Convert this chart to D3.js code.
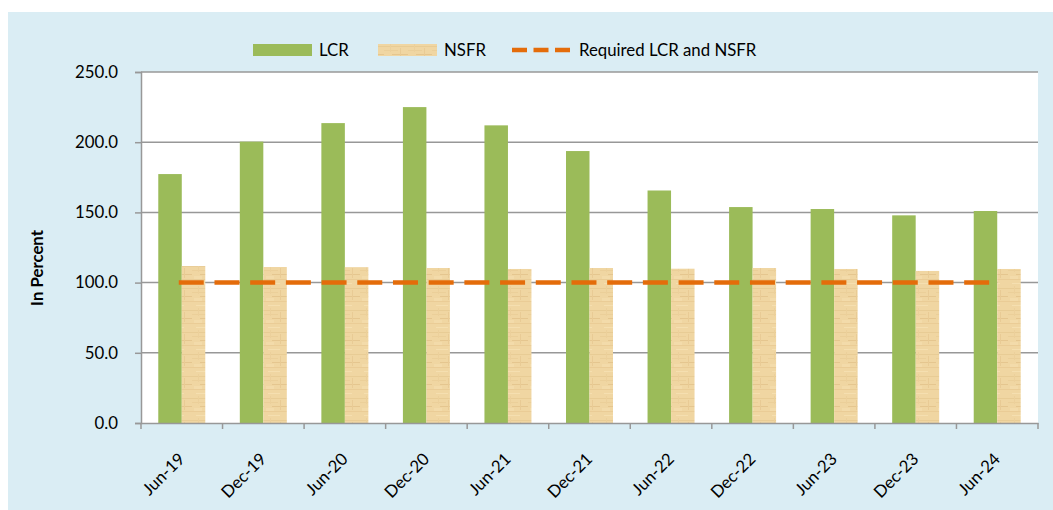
<!DOCTYPE html>
<html>
<head>
<meta charset="utf-8">
<script src="https://cdn.jsdelivr.net/npm/d3@7"></script>
<style>
  body { margin: 0; background: #fff; }
  text { font-family: Lato, "Open Sans", sans-serif; fill: #000; }
</style>
</head>
<body>
<div id="chart"></div>
<script>
const periods = ['Jun-19', 'Dec-19', 'Jun-20', 'Dec-20', 'Jun-21', 'Dec-21', 'Jun-22', 'Dec-22', 'Jun-23', 'Dec-23', 'Jun-24'];
const lcr = [177.3, 200.4, 213.6, 225.0, 212.0, 193.7, 165.6, 153.8, 152.4, 147.9, 151.0];
const nsfr = [111.8, 111.1, 111.0, 110.4, 109.7, 110.4, 109.9, 110.4, 109.7, 108.3, 109.7];
const required = [100, 100, 100, 100, 100, 100, 100, 100, 100, 100, 100];
const yTicks = [0, 50, 100, 150, 200, 250];

const width = 1053, height = 510;
const margin = { top: 72, right: 15, bottom: 87, left: 141 };
const fs = 16.8;

const svg = d3.select('#chart')
    .append('svg')
    .attr('width', width)
    .attr('height', height);

// paper-like texture for NSFR bars
const defs = svg.append('defs');
const pat = defs.append('pattern')
    .attr('id', 'paper')
    .attr('patternUnits', 'userSpaceOnUse')
    .attr('width', 24)
    .attr('height', 22);
pat.append('rect').attr('width', 24).attr('height', 22).attr('fill', '#f0d6a2');
[[0, 2, 24, 1, '#e8cc95'], [0, 6, 14, 1, '#ebcf99'], [8, 10, 16, 1, '#e5c68f'],
 [0, 15, 24, 1, '#eaCC96'], [4, 19, 12, 1, '#f5dfb0'], [16, 4, 1, 10, '#e9cb95'],
 [6, 0, 1, 8, '#ecd09b'], [2, 12, 8, 3, '#f3dbaa']].forEach(r => {
    pat.append('rect')
        .attr('x', r[0]).attr('y', r[1]).attr('width', r[2]).attr('height', r[3])
        .attr('fill', r[4]);
});

svg.append('rect')
    .attr('x', 8).attr('y', 12)
    .attr('width', width - 8).attr('height', height - 12)
    .attr('fill', '#daedf4');

const x = d3.scaleBand()
    .domain(periods)
    .range([margin.left, width - margin.right]);

const y = d3.scaleLinear()
    .domain([0, 250])
    .range([height - margin.bottom, margin.top]);

svg.append('rect')
    .attr('x', margin.left).attr('y', margin.top)
    .attr('width', width - margin.right - margin.left)
    .attr('height', height - margin.bottom - margin.top)
    .attr('fill', '#fff');

// gridlines
svg.append('g')
    .selectAll('line')
    .data(yTicks.slice(1))
    .enter()
    .append('line')
    .attr('x1', margin.left)
    .attr('x2', width - margin.right)
    .attr('y1', d => y(d))
    .attr('y2', d => y(d))
    .attr('stroke', '#989898')
    .attr('stroke-width', 1.5);

const barW = 23.5;

const g = svg.append('g');
g.selectAll('.lcr')
    .data(lcr)
    .enter()
    .append('rect')
    .attr('x', (d, i) => x(periods[i]) + x.bandwidth() / 2 - barW)
    .attr('y', d => y(d))
    .attr('width', barW)
    .attr('height', d => y(0) - y(d))
    .attr('fill', '#9bbb59');

g.selectAll('.nsfr')
    .data(nsfr)
    .enter()
    .append('rect')
    .attr('x', (d, i) => x(periods[i]) + x.bandwidth() / 2)
    .attr('y', d => y(d))
    .attr('width', barW)
    .attr('height', d => y(0) - y(d))
    .attr('fill', 'url(#paper)');

// required line
const line = d3.line()
    .x((d, i) => x(periods[i]) + x.bandwidth() / 2 - 3)
    .y(d => y(d));

svg.append('path')
    .datum(required)
    .attr('d', line)
    .attr('fill', 'none')
    .attr('stroke', '#e46c0a')
    .attr('stroke-width', 4.5)
    .attr('stroke-dasharray', '25,10.7');

// axes
const yAxis = svg.append('g')
    .attr('transform', `translate(${margin.left},0)`)
    .call(d3.axisLeft(y).tickValues(yTicks).tickSize(6).tickFormat(d3.format('.1f')));
yAxis.select('.domain').attr('stroke', '#989898').attr('stroke-width', 1.5);
yAxis.selectAll('.tick line').attr('stroke', '#989898').attr('stroke-width', 1.5);
yAxis.selectAll('.tick text')
    .attr('x', -23)
    .attr('font-size', fs)
    .attr('font-family', 'Lato, "Open Sans", sans-serif');

const xAxis = svg.append('g')
    .attr('transform', `translate(0,${height - margin.bottom})`)
    .call(d3.axisBottom(x).tickSize(0).tickFormat(''));
xAxis.select('.domain').attr('stroke', '#989898').attr('stroke-width', 1.5);

svg.append('g')
    .selectAll('line')
    .data(periods.concat(['end']))
    .enter()
    .append('line')
    .attr('x1', (d, i) => margin.left + i * x.step())
    .attr('x2', (d, i) => margin.left + i * x.step())
    .attr('y1', y(0))
    .attr('y2', y(0) + 6)
    .attr('stroke', '#989898')
    .attr('stroke-width', 1.5);

svg.append('g')
    .selectAll('text')
    .data(periods)
    .enter()
    .append('text')
    .text(d => d)
    .attr('transform', d => `translate(${x(d) + x.bandwidth() / 2 + 4},460) rotate(-45)`)
    .attr('text-anchor', 'end')
    .attr('font-size', fs);

svg.append('text')
    .text('In Percent')
    .attr('transform', 'translate(43,268) rotate(-90)')
    .attr('text-anchor', 'middle')
    .attr('font-size', fs)
    .attr('font-weight', 'bold');

// legend
const legend = svg.append('g');
legend.append('rect')
    .attr('x', 253).attr('y', 44).attr('width', 59).attr('height', 12)
    .attr('fill', '#9bbb59');
legend.append('text').text('LCR').attr('x', 319).attr('y', 56).attr('font-size', fs);
legend.append('rect')
    .attr('x', 378).attr('y', 44).attr('width', 59).attr('height', 12)
    .attr('fill', 'url(#paper)');
legend.append('text').text('NSFR').attr('x', 444).attr('y', 56).attr('font-size', fs);
legend.append('line')
    .attr('x1', 512).attr('x2', 570).attr('y1', 50).attr('y2', 50)
    .attr('stroke', '#e46c0a').attr('stroke-width', 4.5)
    .attr('stroke-dasharray', '15,6.5');
legend.append('text').text('Required LCR and NSFR').attr('x', 579).attr('y', 56).attr('font-size', fs);
</script>
</body>
</html>
